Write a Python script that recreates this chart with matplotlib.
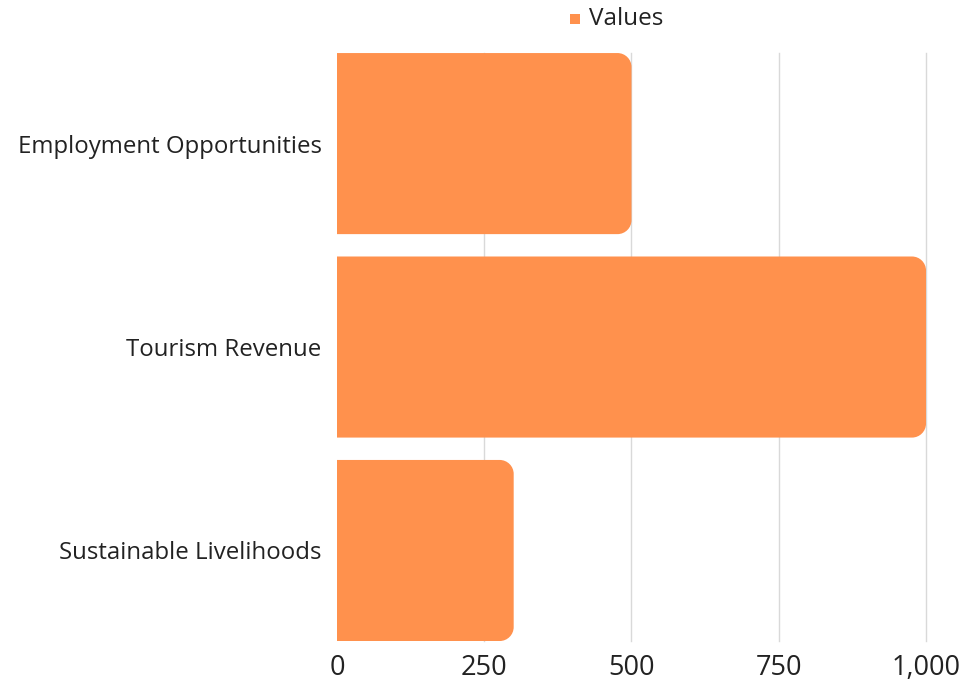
import matplotlib.pyplot as plt
from matplotlib.path import Path
from matplotlib.patches import PathPatch, Rectangle

categories = ['Employment Opportunities', 'Tourism Revenue', 'Sustainable Livelihoods']
values = [500, 1000, 300]
xticks = [0, 250, 500, 750, 1000]
xticklabels = ['0', '250', '500', '750', '1,000']
series_name = 'Values'

bar_color = '#FF914D'
plt.rcParams['font.family'] = ['Open Sans', 'DejaVu Sans']

fig = plt.figure(figsize=(9.65, 6.81), dpi=100)
ax = fig.add_axes([0.3492, 0.0587, 0.6104, 0.8634])

bar_h = 0.89
ax.set_xlim(0, 1000)
ax.set_ylim(len(categories) - 1 + bar_h / 2, -bar_h / 2)

for x in xticks[1:]:
    ax.axvline(x, color='#d9d9d9', lw=1, zorder=0, clip_on=False)


def rounded_right(ax, y, w, h, r_px=14):
    # radius in data units so the corner looks round on screen
    bb = ax.get_window_extent()
    x0, x1 = ax.get_xlim()
    y0, y1 = ax.get_ylim()
    rx = r_px * (x1 - x0) / bb.width
    ry = r_px * abs(y1 - y0) / bb.height
    rx = min(rx, w / 2)
    top, bot = y - h / 2, y + h / 2
    k = 0.5523
    verts = [(0, top), (w - rx, top),
             (w - rx + k * rx, top), (w, top + ry - k * ry), (w, top + ry),
             (w, bot - ry),
             (w, bot - ry + k * ry), (w - rx + k * rx, bot), (w - rx, bot),
             (0, bot), (0, top)]
    codes = [Path.MOVETO, Path.LINETO,
             Path.CURVE4, Path.CURVE4, Path.CURVE4,
             Path.LINETO,
             Path.CURVE4, Path.CURVE4, Path.CURVE4,
             Path.LINETO, Path.CLOSEPOLY]
    return PathPatch(Path(verts, codes), facecolor=bar_color, edgecolor='none', zorder=2)


for i, v in enumerate(values):
    ax.add_patch(rounded_right(ax, i, v, bar_h))

ax.set_yticks(range(len(categories)))
ax.set_yticklabels(categories, fontsize=17.3, color='#222222')
ax.set_xticks(xticks)
ax.set_xticklabels(xticklabels, fontsize=19.5, color='#222222')
ax.tick_params(axis='x', length=0, pad=9)
ax.tick_params(axis='y', length=0, pad=11)
for s in ax.spines.values():
    s.set_visible(False)

# legend on top
fig.patches.append(Rectangle((570 / 965, 1 - 24 / 681), 10 / 965, 10 / 681,
                             transform=fig.transFigure, facecolor=bar_color, edgecolor='none'))
fig.text(589 / 965, 1 - 19 / 681, series_name, fontsize=17.5, color='#222222', va='center', ha='left')

plt.savefig('out.png', dpi=100, facecolor='white')
